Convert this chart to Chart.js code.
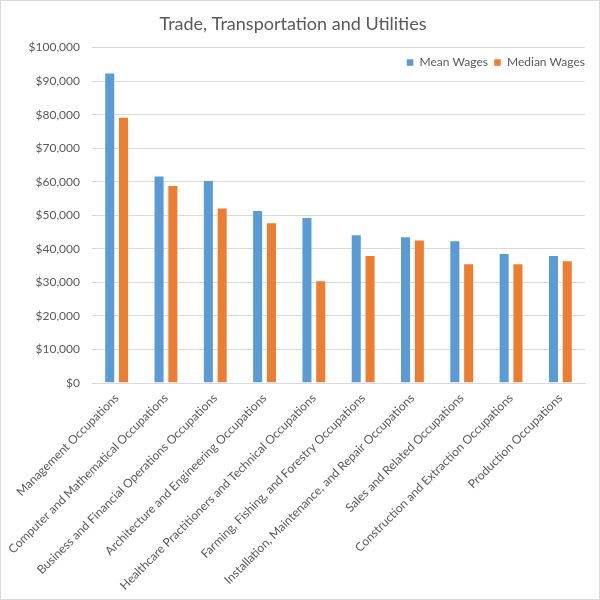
<!DOCTYPE html>
<html>
<head>
<meta charset="utf-8">
<script src="https://cdn.jsdelivr.net/npm/chart.js@4"></script>
<style>
  html, body { margin: 0; padding: 0; background: #fff; }
  #wrap { width: 598px; height: 598px; border: 1px solid #d9d9d9; }
</style>
</head>
<body>
<div id="wrap"><canvas id="myChart" width="598" height="598"></canvas></div>
<script>
var occupations = [
    'Management Occupations',
    'Computer and Mathematical Occupations',
    'Business and Financial Operations Occupations',
    'Architecture and Engineering Occupations',
    'Healthcare Practitioners and Technical Occupations',
    'Farming, Fishing, and Forestry Occupations',
    'Installation, Maintenance, and Repair Occupations',
    'Sales and Related Occupations',
    'Construction and Extraction Occupations',
    'Production Occupations'
];
var meanWages = [92540, 61830, 60540, 51600, 49510, 44340, 43740, 42550, 38770, 38170];
var medianWages = [79420, 59050, 52290, 47920, 30620, 38170, 42750, 35690, 35690, 36590];

var textColor = '#595959';
var fontName = 'Lato, "Liberation Sans", sans-serif';

// move the legend down so it sits inside the plot, under the top gridline
var legendInside = {
    id: 'legendInside',
    afterLayout: function (chart) {
        var lg = chart.legend;
        if (!lg) return;
        var dy = chart.chartArea.top + 3 - lg.top;
        var dx = 6;
        lg.top += dy;
        lg.bottom += dy;
        lg.left += dx;
        lg.right += dx;
        if (lg.legendHitBoxes) {
            lg.legendHitBoxes.forEach(function (b) { b.top += dy; b.left += dx; });
        }
    }
};

function onSight() {
    var ctx = document.getElementById('myChart').getContext('2d');

    var myChart = new Chart(ctx, {
        type: 'bar',
        data: {
            labels: occupations,
            datasets: [{
                label: 'Mean Wages',
                data: meanWages,
                backgroundColor: '#5b9bd5',
                borderColor: 'rgba(255,255,255,0.5)',
                borderWidth: 1
            }, {
                label: 'Median Wages',
                data: medianWages,
                backgroundColor: '#ed7d31',
                borderColor: 'rgba(255,255,255,0.5)',
                borderWidth: 1
            }]
        },
        options: {
            responsive: false,
            animation: false,
            layout: {
                padding: { left: 0, right: 14, top: 0, bottom: 6 }
            },
            datasets: {
                bar: { categoryPercentage: 0.56, barPercentage: 0.8 }
            },
            scales: {
                x: {
                    grid: { display: false },
                    border: { color: '#d9d9d9' },
                    ticks: {
                        color: textColor,
                        font: { family: fontName, size: 12 },
                        minRotation: 45,
                        maxRotation: 45,
                        autoSkip: false,
                        padding: 0
                    },
                    afterFit: function (scale) { scale.height = 210; }
                },
                y: {
                    min: 0,
                    max: 100000,
                    grid: { color: '#d9d9d9', drawTicks: false },
                    border: { display: false },
                    ticks: {
                        stepSize: 10000,
                        color: textColor,
                        padding: 12,
                        font: { family: fontName, size: 12 },
                        callback: function (v) { return '$' + v.toLocaleString('en-US'); }
                    },
                    afterFit: function (scale) { scale.width = 91; }
                }
            },
            plugins: {
                legend: {
                    position: 'top',
                    align: 'end',
                    labels: {
                        color: textColor,
                        font: { family: fontName, size: 12 },
                        boxWidth: 7,
                        boxHeight: 7,
                        padding: 6
                    }
                },
                title: {
                    display: true,
                    text: 'Trade, Transportation and Utilities',
                    color: textColor,
                    font: { family: fontName, size: 18, weight: 'normal' },
                    padding: { top: 12, bottom: -15 }
                },
                tooltip: { enabled: false }
            }
        },
        plugins: [legendInside]
    });
}

document.addEventListener('DOMContentLoaded', onSight);
</script>
</body>
</html>
